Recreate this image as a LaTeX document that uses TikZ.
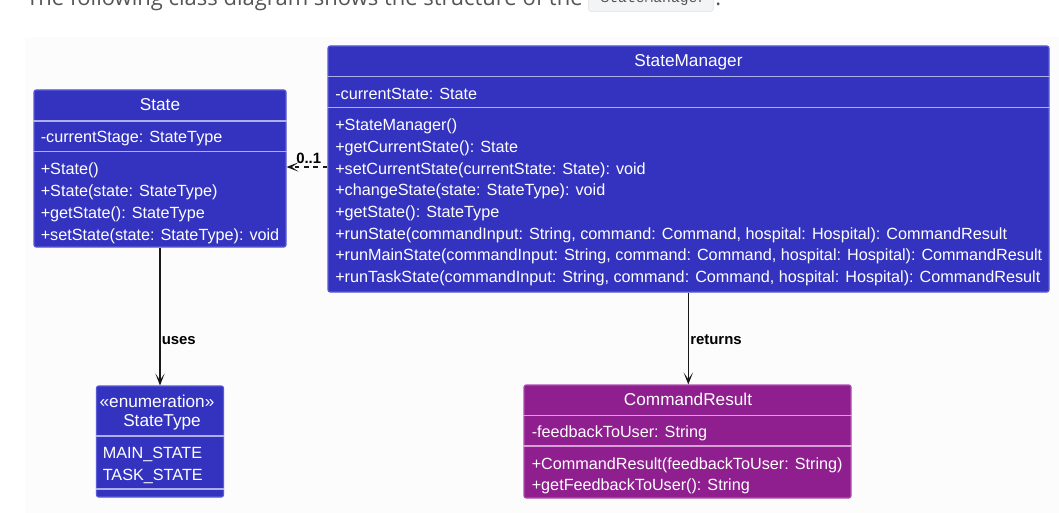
\documentclass[tikz,border=0pt]{standalone}
\usepackage{fontspec}
\setmainfont{Liberation Sans}
\newfontfamily\introfont{Open Sans}
\newfontfamily\codefont{Liberation Mono}
\usetikzlibrary{fit,arrows.meta}
\definecolor{umlblue}{RGB}{51,51,192}
\definecolor{umlblueedge}{RGB}{90,90,215}
\definecolor{umlpurple}{RGB}{143,31,143}
\definecolor{umlpurpleedge}{RGB}{175,80,175}
\definecolor{seplilac}{RGB}{175,175,232}
\definecolor{seppink}{RGB}{215,160,215}
\definecolor{bgpanel}{RGB}{252,252,252}
\definecolor{introgray}{RGB}{85,85,85}
\definecolor{codebg}{RGB}{243,244,246}
\definecolor{codeedge}{RGB}{222,224,228}
\definecolor{connector}{RGB}{24,24,24}
\tikzset{
  classbox/.style={draw=umlblueedge, fill=umlblue, rounded corners=1.5pt, inner sep=0pt, line width=0.8pt},
  resultbox/.style={draw=umlpurpleedge, fill=umlpurple, rounded corners=1.5pt, inner sep=0pt, line width=0.8pt},
  member/.style={anchor=base west, inner sep=0pt, text=white, font=\fontsize{12.15}{14}\selectfont},
  classtitle/.style={anchor=base, inner sep=0pt, text=white, font=\fontsize{12.9}{15}\selectfont},
  sepline/.style={draw=seplilac, line width=0.9pt},
  sepline2/.style={draw=seppink, line width=0.9pt},
  assoc/.style={draw=connector, line width=0.8pt, -{Stealth[length=9pt, width=7pt, inset=5pt]}},
  dassoc/.style={assoc, dash pattern=on 3.5pt off 3.5pt},
  edgelabel/.style={anchor=base west, inner sep=0pt, text=black, font=\fontsize{11.2}{13}\selectfont\bfseries},
}
\begin{document}
\begin{tikzpicture}[x=0.75pt, y=-0.75pt]
\useasboundingbox (0,0) rectangle (1059,513);
\clip (0,0) rectangle (1059,513);
\fill[white] (0,0) rectangle (1059,513);
\fill[bgpanel] (25,37) rectangle (1059,513);

% intro line (cut off at top, as in the reference)
\node[anchor=base west, inner sep=0pt, text=introgray, font=\introfont\fontsize{16.5}{18}\selectfont] (intro) at (26,6) {The following class diagram shows the structure of the};
\node[anchor=base west, inner sep=0pt, draw=codeedge, fill=codebg, rounded corners=2pt, minimum width=93.75pt, minimum height=17pt, text depth=3pt, font=\codefont\fontsize{11}{12}\selectfont, text=introgray] (code) at (588,3) {\hspace{4pt}StateManager};
\node[anchor=base west, inner sep=0pt, text=introgray, font=\introfont\fontsize{16.5}{18}\selectfont] (dot) at (715,6) {.};

% ---- State ----
\node[classbox, fit={(34,90) (286,247)}] (state) {};
\coordinate (st1) at (0,121);
\coordinate (st2) at (0,151.5);
\draw[sepline] (state.west |- st1) -- (state.east |- st1);
\draw[sepline] (state.west |- st2) -- (state.east |- st2);
\node[classtitle] (stT) at (160,110.5) {State};
\node[member] (stA) at (40.5,143) {-currentStage: StateType};
\node[member] (stM1) at (40.5,175) {+State()};
\node[member] (stM2) at (40.5,196.7) {+State(state: StateType)};
\node[member] (stM3) at (40.5,218.4) {+getState(): StateType};
\node[member] (stM4) at (40.5,240.1) {+setState(state: StateType): void};

% ---- StateManager ----
\node[classbox, fit={(328,46) (1049,292)}] (sm) {};
\coordinate (sm1) at (0,76.5);
\coordinate (sm2) at (0,107.5);
\draw[sepline] (sm.west |- sm1) -- (sm.east |- sm1);
\draw[sepline] (sm.west |- sm2) -- (sm.east |- sm2);
\node[classtitle] (smT) at (688.5,66.5) {StateManager};
\node[member] (smA) at (335,99.2) {-currentState: State};
\node[member] (smM1) at (335,130.7) {+StateManager()};
\node[member] (smM2) at (335,152.4) {+getCurrentState(): State};
\node[member] (smM3) at (335,174.1) {+setCurrentState(currentState: State): void};
\node[member] (smM4) at (335,195.8) {+changeState(state: StateType): void};
\node[member] (smM5) at (335,217.5) {+getState(): StateType};
\node[member] (smM6) at (335,239.2) {+runState(commandInput: String, command: Command, hospital: Hospital): CommandResult};
\node[member] (smM7) at (335,260.9) {+runMainState(commandInput: String, command: Command, hospital: Hospital): CommandResult};
\node[member] (smM8) at (335,282.6) {+runTaskState(commandInput: String, command: Command, hospital: Hospital): CommandResult};

% ---- StateType ----
\node[classbox, fit={(96.5,386) (223.5,497)}] (stype) {};
\coordinate (sty1) at (0,436);
\coordinate (sty2) at (0,489);
\draw[sepline] (stype.west |- sty1) -- (stype.east |- sty1);
\draw[sepline] (stype.west |- sty2) -- (stype.east |- sty2);
\node[classtitle] (styS) at (157,407.3) {«enumeration»};
\node[classtitle] (styT) at (162,426.7) {StateType};
\node[member] (styV1) at (102.5,458.3) {MAIN\_STATE};
\node[member] (styV2) at (102.5,480) {TASK\_STATE};

% ---- CommandResult ----
\node[resultbox, fit={(524,385) (851,498)}] (cr) {};
\coordinate (cr1) at (0,415.5);
\coordinate (cr2) at (0,446);
\draw[sepline2] (cr.west |- cr1) -- (cr.east |- cr1);
\draw[sepline2] (cr.west |- cr2) -- (cr.east |- cr2);
\node[classtitle] (crT) at (688,405) {CommandResult};
\node[member] (crA) at (531.5,437.3) {-feedbackToUser: String};
\node[member] (crM1) at (531.5,469.3) {+CommandResult(feedbackToUser: String)};
\node[member] (crM2) at (531.5,490.5) {+getFeedbackToUser(): String};

% ---- connectors ----
\draw[assoc] (state.south) -- (stype.north -| state.south);
\node[edgelabel] (usesL) at (161.5,344) {uses};

\draw[assoc] (sm.south -| 688.3,0) -- (cr.north -| 688.3,0);
\node[edgelabel] (retL) at (690,344) {returns};

\coordinate (dy) at (0,167);
\draw[dassoc] (sm.west |- dy) -- (state.east |- dy);
\node[edgelabel] (multL) at (296,164) {0..1};
\end{tikzpicture}
\end{document}
